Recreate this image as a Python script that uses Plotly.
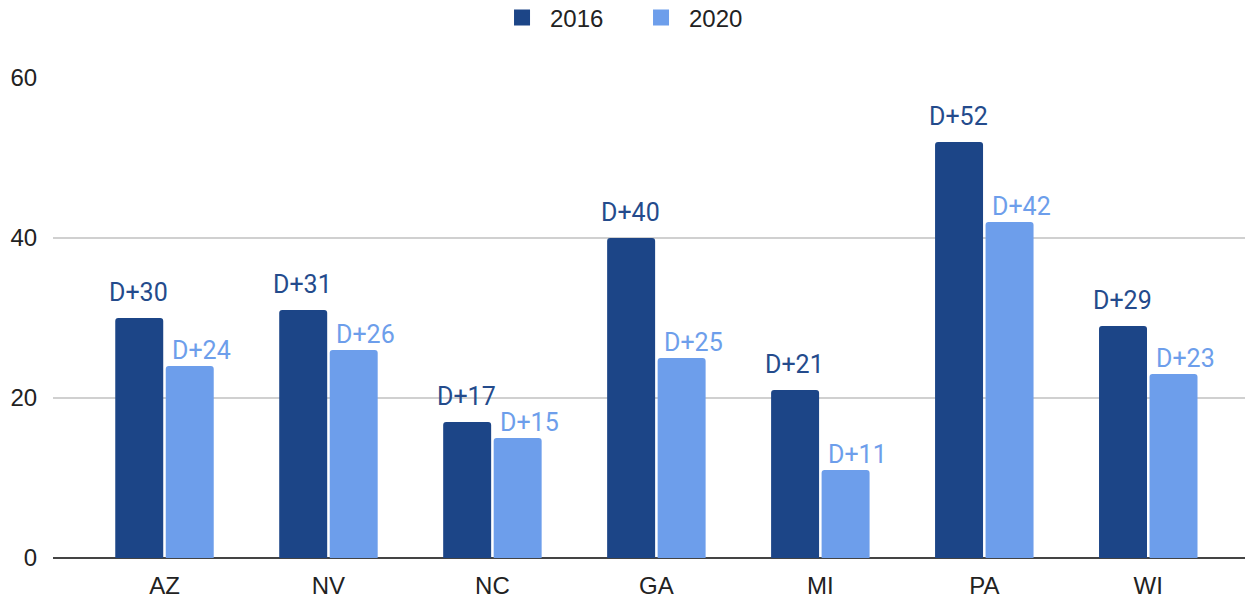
import plotly.graph_objects as go

states = ["AZ", "NV", "NC", "GA", "MI", "PA", "WI"]
v2016 = [30, 31, 17, 40, 21, 52, 29]
v2020 = [24, 26, 15, 25, 11, 42, 23]
series_names = ["2016", "2020"]
y_ticks = [0, 20, 40, 60]

DARK = "#1c4587"
LIGHT = "#6d9eeb"
AXIS_FONT = "Liberation Sans, Arial, sans-serif"
LABEL_FONT = "Roboto, sans-serif"

fig = go.Figure()
for name, vals, col in [(series_names[0], v2016, DARK), (series_names[1], v2020, LIGHT)]:
    fig.add_trace(go.Bar(
        x=states, y=vals, name=name, showlegend=False,
        marker=dict(color=col, cornerradius=3, line=dict(width=0)),
        hoverinfo="x+y",
    ))
    # legend proxy with large square markers
    fig.add_trace(go.Scatter(
        x=[None], y=[None], mode="markers", name=name,
        marker=dict(symbol="square", size=26, color=col),
    ))

annotations = []
for s, a, b in zip(states, v2016, v2020):
    annotations.append(dict(x=s, y=a, text=f"D+{a}", showarrow=False, yanchor="bottom",
                            xshift=-26, yshift=9, font=dict(family=LABEL_FONT, size=25, color="#244b8c")))
    annotations.append(dict(x=s, y=b, text=f"D+{b}", showarrow=False, yanchor="bottom",
                            xshift=37, yshift=-1, font=dict(family=LABEL_FONT, size=25, color=LIGHT)))

fig.update_layout(
    width=1245, height=599,
    margin=dict(l=53, r=0, t=78, b=41, autoexpand=False),
    paper_bgcolor="white", plot_bgcolor="white",
    barmode="group", bargap=0.384, bargroupgap=0.05,
    font=dict(family=AXIS_FONT, size=24, color="#222222"),
    legend=dict(orientation="h", x=0.4866, xanchor="center", y=1.125, yanchor="middle",
                font=dict(size=24, color="#222222"),
                itemsizing="trace", itemwidth=46, entrywidth=78, entrywidthmode="pixels",
                tracegroupgap=0),
    annotations=annotations,
    xaxis=dict(range=[-0.68, 6.59], showgrid=False, showline=False, zeroline=False,
               ticks="outside", ticklen=6, tickcolor="rgba(0,0,0,0)", automargin=False,
               tickfont=dict(family=AXIS_FONT, size=24, color="#222222")),
    yaxis=dict(range=[0, 60], tickvals=y_ticks, showgrid=True, gridcolor="#d0d0d0", gridwidth=1.5,
               zeroline=True, zerolinecolor="#444444", zerolinewidth=2, showline=False,
               ticks="outside", ticklen=10, tickcolor="rgba(0,0,0,0)", automargin=False,
               tickfont=dict(family=AXIS_FONT, size=24, color="#222222")),
)

fig.write_html("out.html", config={"displayModeBar": False},
               post_script="document.body.style.margin='0';document.body.style.overflow='hidden';")
